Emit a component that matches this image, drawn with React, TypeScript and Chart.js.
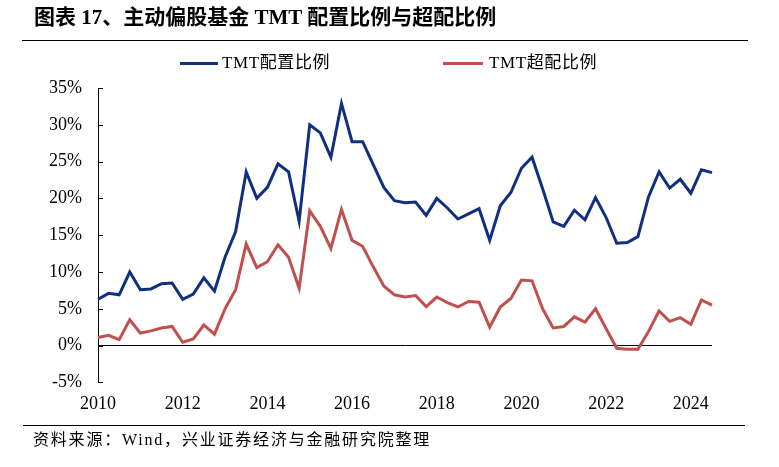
import React, { useEffect, useRef } from "react";
import { Chart, registerables } from "chart.js";

Chart.register(...registerables);

const categories: string[] = [
  "2010Q1", "2010Q2", "2010Q3", "2010Q4",
  "2011Q1", "2011Q2", "2011Q3", "2011Q4",
  "2012Q1", "2012Q2", "2012Q3", "2012Q4",
  "2013Q1", "2013Q2", "2013Q3", "2013Q4",
  "2014Q1", "2014Q2", "2014Q3", "2014Q4",
  "2015Q1", "2015Q2", "2015Q3", "2015Q4",
  "2016Q1", "2016Q2", "2016Q3", "2016Q4",
  "2017Q1", "2017Q2", "2017Q3", "2017Q4",
  "2018Q1", "2018Q2", "2018Q3", "2018Q4",
  "2019Q1", "2019Q2", "2019Q3", "2019Q4",
  "2020Q1", "2020Q2", "2020Q3", "2020Q4",
  "2021Q1", "2021Q2", "2021Q3", "2021Q4",
  "2022Q1", "2022Q2", "2022Q3", "2022Q4",
  "2023Q1", "2023Q2", "2023Q3", "2023Q4",
  "2024Q1", "2024Q2", "2024Q3",
];

const xTickLabels: string[] = ["2010", "2012", "2014", "2016", "2018", "2020", "2022", "2024"];

const allocation: number[] = [
  6.3, 7.1, 6.9, 10.0, 7.6, 7.7, 8.4, 8.5,
  6.3, 7.0, 9.2, 7.4, 12.0, 15.5, 23.6, 20.0,
  21.5, 24.7, 23.6, 16.9, 30.0, 28.9, 25.6, 32.9,
  27.7, 27.7, 24.6, 21.5, 19.7, 19.4, 19.5, 17.7,
  20.0, 18.7, 17.2, 17.9, 18.6, 14.3, 19.0, 20.8,
  24.1, 25.6, 21.3, 16.8, 16.2, 18.4, 17.1, 20.1,
  17.4, 13.9, 14.0, 14.8, 20.2, 23.6, 21.4, 22.6,
  20.7, 23.9, 23.5,
];

const overweight: number[] = [
  1.1, 1.4, 0.8, 3.5, 1.7, 2.0, 2.4, 2.6,
  0.45, 0.9, 2.8, 1.55, 5.0, 7.6, 13.8, 10.6,
  11.4, 13.7, 12.0, 7.8, 18.3, 16.2, 13.2, 18.5,
  14.3, 13.5, 10.7, 8.1, 6.9, 6.6, 6.8, 5.3,
  6.6, 5.85, 5.25, 6.0, 5.9, 2.5, 5.25, 6.4,
  8.9, 8.8, 5.0, 2.4, 2.6, 3.9, 3.2, 5.0,
  2.3, -0.37, -0.5, -0.5, 1.9, 4.7, 3.3, 3.8,
  2.9, 6.2, 5.5,
];

const seriesNames: string[] = ["TMT配置比例", "TMT超配比例"];
const yTicks = { min: -5, max: 35, step: 5 };

const BLUE = "#10307f";
const RED = "#c0504d";
const FONT = "'Liberation Serif', 'Noto Sans CJK SC', serif";

const innerTicks = {
  id: "innerTicks",
  afterDraw(chart: any) {
    const y = chart.scales.y;
    const ctx = chart.ctx;
    ctx.save();
    ctx.strokeStyle = "#000";
    ctx.lineWidth = 1;
    y.ticks.forEach((t: any) => {
      const py = Math.round(y.getPixelForValue(t.value)) + 0.5;
      ctx.beginPath();
      ctx.moveTo(chart.chartArea.left, py);
      ctx.lineTo(chart.chartArea.left + 5, py);
      ctx.stroke();
    });
    ctx.restore();
  },
};

export default function App() {
  const ref = useRef<HTMLCanvasElement | null>(null);

  useEffect(() => {
    if (!ref.current) return;
    const chart = new Chart(ref.current, {
      type: "line",
      data: {
        labels: categories,
        datasets: [
          {
            label: seriesNames[0],
            data: allocation,
            borderColor: BLUE,
            backgroundColor: BLUE,
            borderWidth: 3,
            pointRadius: 0,
            tension: 0,
          },
          {
            label: seriesNames[1],
            data: overweight,
            borderColor: RED,
            backgroundColor: RED,
            borderWidth: 3,
            pointRadius: 0,
            tension: 0,
          },
        ],
      },
      options: {
        animation: false,
        responsive: true,
        maintainAspectRatio: false,
        layout: { padding: { top: 88, left: 0, right: 67, bottom: 41 } },
        plugins: {
          legend: { display: false },
          tooltip: { enabled: false },
        },
        scales: {
          x: {
            type: "category",
            offset: false,
            grid: { display: false, drawTicks: false },
            border: { display: false },
            ticks: {
              autoSkip: false,
              maxRotation: 0,
              padding: 11,
              color: "#000",
              font: { family: FONT, size: 18 },
              callback: (_v: any, i: number) => {
                const c = categories[i];
                const yr = c.slice(0, 4);
                return c.endsWith("Q1") && xTickLabels.includes(yr) ? yr : "";
              },
            },
          },
          y: {
            min: yTicks.min,
            max: yTicks.max,
            afterFit: (s: any) => {
              s.width = 98;
            },
            grid: {
              drawTicks: false,
              color: (c: any) => (c.tick && c.tick.value === 0 ? "#000" : "rgba(0,0,0,0)"),
              lineWidth: 1,
            },
            border: { display: true, color: "#000", width: 1 },
            ticks: {
              stepSize: yTicks.step,
              padding: 16,
              color: "#000",
              font: { family: FONT, size: 18 },
              callback: (v: any) => `${v}%`,
            },
          },
        },
      },
      plugins: [innerTicks],
    });
    return () => chart.destroy();
  }, []);

  const text: React.CSSProperties = { position: "absolute", fontFamily: FONT, color: "#000", whiteSpace: "nowrap" };

  return (
    <div style={{ position: "absolute", left: 0, top: 0, width: 779, height: 467, background: "#fff", overflow: "hidden" }}>
      <div style={{ position: "absolute", left: 0, top: 0, width: 779, height: 467 }}>
        <canvas ref={ref} />
      </div>
      <div style={{ ...text, left: 34, top: 5, fontSize: 21, lineHeight: "24px", fontWeight: "bold" }}>
        图表 17、主动偏股基金 TMT 配置比例与超配比例
      </div>
      <div style={{ position: "absolute", left: 22, top: 39.5, width: 726, height: 1.5, background: "#000" }} />
      <div style={{ position: "absolute", left: 180, top: 61.5, width: 38, height: 3, background: BLUE }} />
      <div style={{ ...text, left: 222, top: 52, fontSize: 17, lineHeight: "22px", letterSpacing: "0.6px" }}>{seriesNames[0]}</div>
      <div style={{ position: "absolute", left: 443, top: 61.5, width: 40, height: 3, background: RED }} />
      <div style={{ ...text, left: 489, top: 52, fontSize: 17, lineHeight: "22px", letterSpacing: "0.6px" }}>{seriesNames[1]}</div>
      <div style={{ position: "absolute", left: 23, top: 424.5, width: 722, height: 1.5, background: "#000" }} />
      <div style={{ ...text, left: 33, top: 429, fontSize: 16, lineHeight: "22px", letterSpacing: "1.8px" }}>
        资料来源：Wind，兴业证券经济与金融研究院整理
      </div>
    </div>
  );
}
